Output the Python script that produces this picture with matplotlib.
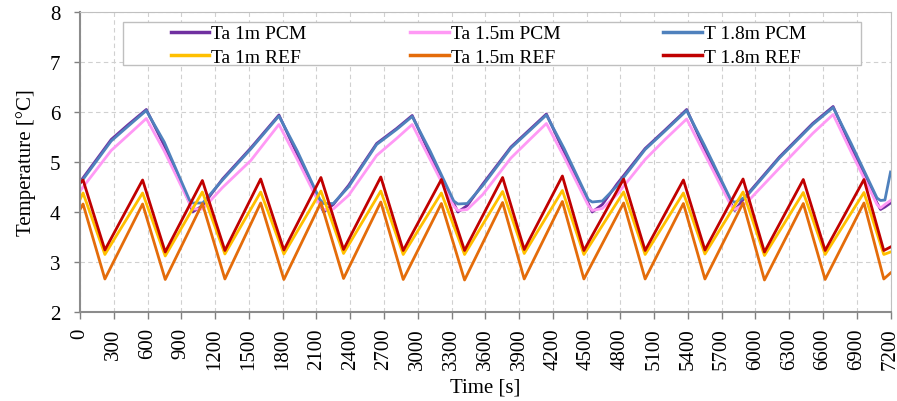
import matplotlib
matplotlib.use('Agg')
import matplotlib.pyplot as plt
from matplotlib.patches import Rectangle

plt.rcParams['font.family'] = ['Liberation Serif', 'DejaVu Serif']

# PCM case: keypoints (time in s, temperature in degC)
pcm_t = [0, 277, 424, 589, 748, 972, 1001, 1090, 1266, 1517, 1767,
         1930, 2130, 2164, 2250, 2385, 2635, 2812, 2951,
         3110, 3320, 3357, 3440, 3578, 3828, 4005, 4143,
         4300, 4515, 4550, 4640, 4770, 5020, 5197, 5389,
         5550, 5780, 5816, 5919, 6213, 6508, 6690,
         6850, 7080, 7111, 7150, 7200]
ta1_pcm = [4.60, 5.45, 5.74, 6.05, 5.33, 4.19, 4.00, 4.13, 4.66, 5.28, 5.94,
           5.15, 4.17, 4.00, 4.15, 4.53, 5.37, 5.67, 5.93,
           5.15, 4.17, 4.00, 4.13, 4.56, 5.30, 5.67, 5.96,
           5.20, 4.17, 4.00, 4.15, 4.56, 5.27, 5.64, 6.05,
           5.25, 4.18, 4.03, 4.33, 5.10, 5.77, 6.11,
           5.30, 4.18, 4.05, 4.10, 4.18]
ta15_pcm = [4.42, 5.23, 5.53, 5.87, 5.22, 4.18, 4.06, 4.06, 4.49, 5.03, 5.75,
            5.05, 4.15, 4.05, 4.06, 4.33, 5.13, 5.47, 5.75,
            5.05, 4.12, 4.03, 4.05, 4.35, 5.08, 5.47, 5.77,
            5.10, 4.13, 4.03, 4.07, 4.35, 5.05, 5.45, 5.86,
            5.15, 4.14, 4.05, 4.18, 4.88, 5.57, 5.95,
            5.20, 4.15, 4.08, 4.15, 4.23]
t18_pcm = [4.57, 5.42, 5.71, 6.03, 5.40, 4.24, 4.18, 4.18, 4.64, 5.26, 5.92,
           5.22, 4.25, 4.17, 4.17, 4.50, 5.35, 5.65, 5.91,
           5.22, 4.22, 4.16, 4.17, 4.53, 5.28, 5.65, 5.94,
           5.27, 4.25, 4.20, 4.22, 4.52, 5.25, 5.62, 6.03,
           5.32, 4.25, 4.19, 4.31, 5.08, 5.75, 6.09,
           5.37, 4.28, 4.23, 4.24, 4.80]

# reference case: peaks and minima
ref_t = [0, 27, 221, 556, 757, 1087, 1287, 1605, 1811, 2140, 2341, 2672, 2871,
         3210, 3416, 3754, 3946, 4285, 4476, 4829, 5020, 5360, 5551, 5890,
         6080, 6425, 6619, 6964, 7140, 7200]
t18_ref = [4.58, 4.64, 3.24, 4.64, 3.20, 4.63, 3.23, 4.66, 3.24, 4.69, 3.25,
           4.70, 3.23, 4.65, 3.23, 4.69, 3.25, 4.72, 3.23, 4.66, 3.23, 4.64,
           3.24, 4.66, 3.20, 4.65, 3.23, 4.65, 3.23, 3.30]
ta1_ref = [4.25, 4.38, 3.15, 4.38, 3.12, 4.40, 3.16, 4.40, 3.16, 4.42, 3.17,
           4.42, 3.15, 4.38, 3.15, 4.41, 3.17, 4.43, 3.15, 4.40, 3.15, 4.38,
           3.16, 4.40, 3.13, 4.39, 3.15, 4.39, 3.15, 3.20]
ta15_ref = [4.05, 4.16, 2.66, 4.16, 2.65, 4.17, 2.66, 4.18, 2.65, 4.19, 2.67,
            4.20, 2.65, 4.17, 2.64, 4.19, 2.66, 4.21, 2.66, 4.18, 2.66, 4.17,
            2.66, 4.18, 2.64, 4.17, 2.65, 4.18, 2.66, 2.78]

x_ticks = list(range(0, 7201, 300))
y_ticks = [2, 3, 4, 5, 6, 7, 8]

fig = plt.figure(figsize=(8.97, 4.02), dpi=100)
ax = fig.add_axes([0.0892, 0.2214, 0.9036, 0.7463])

lw = 2.0
l1, = ax.plot(pcm_t, ta1_pcm, color='#7030A0', lw=lw, label='Ta 1m PCM')
l2, = ax.plot(pcm_t, ta15_pcm, color='#FF99F5', lw=lw, label='Ta 1.5m PCM')
l3, = ax.plot(pcm_t, t18_pcm, color='#4F81BD', lw=lw, label='T 1.8m PCM')
l4, = ax.plot(ref_t, ta1_ref, color='#FFC000', lw=lw, label='Ta 1m REF')
l5, = ax.plot(ref_t, ta15_ref, color='#E46C0A', lw=lw, label='Ta 1.5m REF')
l6, = ax.plot(ref_t, t18_ref, color='#C00000', lw=lw, label='T 1.8m REF')

ax.set_xlim(0, 7200)
ax.set_ylim(2, 8)
ax.set_xticks(x_ticks)
ax.set_xticklabels([str(v) for v in x_ticks], rotation=90, fontsize=15)
ax.set_yticks(y_ticks)
ax.set_yticklabels([str(v) for v in y_ticks], fontsize=15)
ax.tick_params(axis='x', length=5, width=1, color='#808080', pad=6)
ax.tick_params(axis='y', length=4, width=1, color='#808080', pad=10)

ax.grid(True, color='#d0d0d0', linestyle=(0, (4, 3)), linewidth=0.8)
ax.set_axisbelow(True)
for s in ['top', 'right']:
    ax.spines[s].set_color('#c0c0c0')
    ax.spines[s].set_linewidth(0.8)
for s in ['left', 'bottom']:
    ax.spines[s].set_color('#8c8c8c')
    ax.spines[s].set_linewidth(1.5)

ax.set_xlabel('Time [s]', fontsize=15, labelpad=6)
ax.set_ylabel('Temperature [°C]', fontsize=15, labelpad=10)

# legend box
bx, by, bw, bh = 0.053, 0.8233, 0.910, 0.1434
box = Rectangle((bx, by), bw, bh, transform=ax.transAxes,
                facecolor='white', edgecolor='#bfbfbf', linewidth=1.0, zorder=3)
ax.add_patch(box)
handles = [l1, l4, l2, l5, l3, l6]
leg = ax.legend(handles=handles, ncol=3, loc='center',
                bbox_to_anchor=(bx + bw / 2 - 0.004, by + bh / 2 - 0.006),
                frameon=False, fontsize=14, handlelength=2.0, handletextpad=0.1,
                columnspacing=5.3, labelspacing=0.3, borderpad=0)
leg.set_zorder(4)
for h in leg.get_lines():
    h.set_linewidth(2.5)

fig.savefig('out.png', dpi=100)
